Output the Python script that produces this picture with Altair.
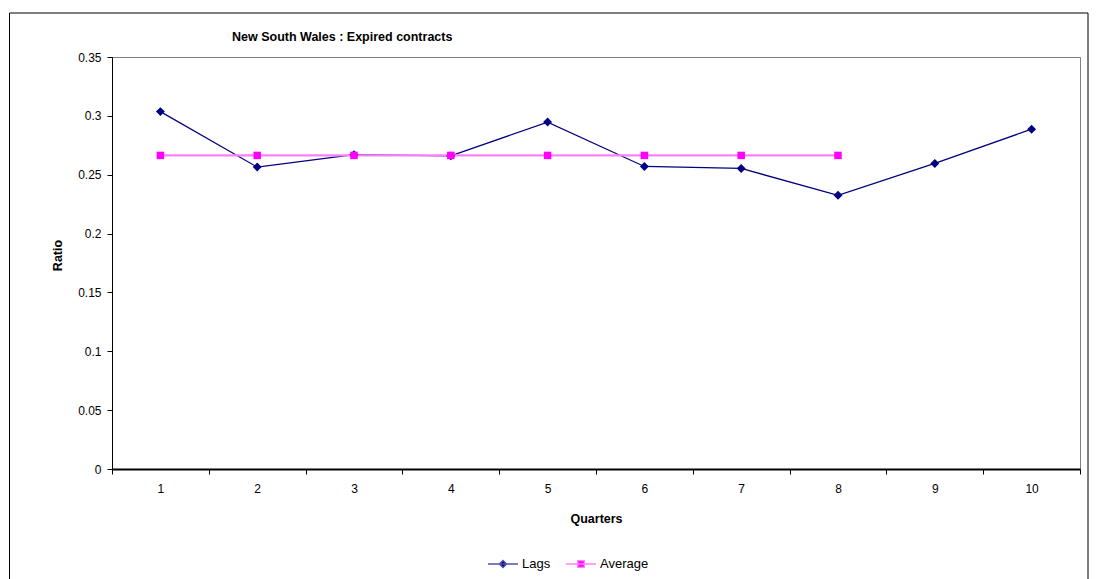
import altair as alt
import pandas as pd

quarters = list(range(1, 11))
lags = [0.3036, 0.2565, 0.2670, 0.2660, 0.2947, 0.2570, 0.2553, 0.2325, 0.2596, 0.2887]
avg_quarters = list(range(1, 9))
avg_value = 0.2664
series_names = ["Lags", "Average"]
y_ticks = [0, 0.05, 0.1, 0.15, 0.2, 0.25, 0.3, 0.35]
x_ticks = [0.5, 1.5, 2.5, 3.5, 4.5, 5.5, 6.5, 7.5, 8.5, 9.5, 10.5]

rows = [{"series": "Lags", "quarter": q, "value": v} for q, v in zip(quarters, lags)]
rows += [{"series": "Average", "quarter": q, "value": avg_value} for q in avg_quarters]
df = pd.DataFrame(rows)
df["legend_series"] = df["series"]

FONT = "Liberation Sans"
W, H = 968, 412
band = W / 10

x_enc = alt.X("quarter:Q", scale=alt.Scale(domain=[0.5, 10.5], nice=False, zero=False),
              axis=alt.Axis(values=x_ticks, title="Quarters", grid=False,
                            labelExpr="datum.value < 10 ? format(datum.value + 0.5, 'd') : ''",
                            labelOffset=band / 2, labelFlush=False, labelOverlap=False,
                            domainColor="black", domainWidth=2, tickColor="black", tickSize=5,
                            labelPadding=9, titleY=49, titleBaseline="middle"))
y_enc = alt.Y("value:Q", scale=alt.Scale(domain=[0, 0.35], nice=False),
              axis=alt.Axis(values=y_ticks, format="~g", title="Ratio", grid=False,
                            labelFlush=False, labelOverlap=False,
                            domainColor="black", tickColor="black", tickSize=5,
                            labelPadding=6, titleX=-55, titleY=198, titleBaseline="middle"))

lines = alt.Chart(df).mark_line(clip=False).encode(
    x=x_enc, y=y_enc,
    color=alt.Color("series:N", scale=alt.Scale(domain=series_names, range=["#000080", "#FF80FF"]),
                    legend=None),
    strokeWidth=alt.StrokeWidth("series:N", scale=alt.Scale(domain=series_names, range=[1.3, 2.2]),
                                legend=None),
    order="quarter:Q",
)

points = alt.Chart(df).mark_point(filled=True, opacity=1, clip=False).encode(
    x="quarter:Q", y="value:Q",
    color=alt.Color("series:N", scale=alt.Scale(domain=series_names, range=["#000080", "#FF00FF"]),
                    legend=None),
    shape=alt.Shape("series:N", scale=alt.Scale(domain=series_names, range=["diamond", "square"]), legend=None),
    size=alt.Size("series:N", scale=alt.Scale(domain=series_names, range=[80, 56]), legend=None),
)

diamond_legend = "M-1,0H1M0,-0.24L0.24,0L0,0.24L-0.24,0Z"
square_legend = "M-1,0H1M-0.22,-0.22H0.22V0.22H-0.22Z"

legend_args = dict(orient="none", legendX=375, legendY=491, direction="horizontal",
                   symbolSize=900, symbolStrokeWidth=1.3, symbolOpacity=1, padding=0,
                   labelFont=FONT, labelFontSize=13, labelColor="black",
                   columnPadding=12, labelOffset=3, title=None)

legend_layer = alt.Chart(df).mark_point(filled=True, opacity=1, size=0, clip=True).encode(
    x="quarter:Q", y="value:Q",
    color=alt.Color("legend_series:N", scale=alt.Scale(domain=series_names, range=["#000080", "#FF00FF"]),
                    legend=alt.Legend(**legend_args)),
    stroke=alt.Stroke("legend_series:N", scale=alt.Scale(domain=series_names, range=["#5050A8", "#FF80FF"]),
                      legend=alt.Legend(**legend_args)),
    shape=alt.Shape("legend_series:N", scale=alt.Scale(domain=series_names, range=[diamond_legend, square_legend]),
                    legend=alt.Legend(**legend_args)),
)

frame = alt.Chart(pd.DataFrame({"a": [0]})).mark_rect(
    fill="white", fillOpacity=0, stroke="#000000", strokeWidth=1, clip=False
).encode(x=alt.value(-102.5), x2=alt.value(976), y=alt.value(-44), y2=alt.value(600))

chart = alt.layer(frame, lines, points, legend_layer).resolve_scale(
    color="independent", shape="independent", size="independent", strokeWidth="independent",
    stroke="independent"
).properties(
    width=W, height=H,
    title=alt.TitleParams("New South Wales : Expired contracts", anchor="start", dx=223, dy=41,
                          font=FONT, fontSize=12.5, fontWeight="bold", color="black", offset=10),
    autosize=alt.AutoSizeParams(type="none"),
    padding={"left": 104, "top": 49, "right": 12, "bottom": 140},
).configure(background="white").configure_view(stroke="#808080", strokeWidth=1).configure_axis(
    labelFont=FONT, labelFontSize=12, labelColor="black",
    titleFont=FONT, titleFontSize=12.5, titleFontWeight="bold", titleColor="black",
)

chart.save("out.html", embed_options={"renderer": "svg", "actions": False})
